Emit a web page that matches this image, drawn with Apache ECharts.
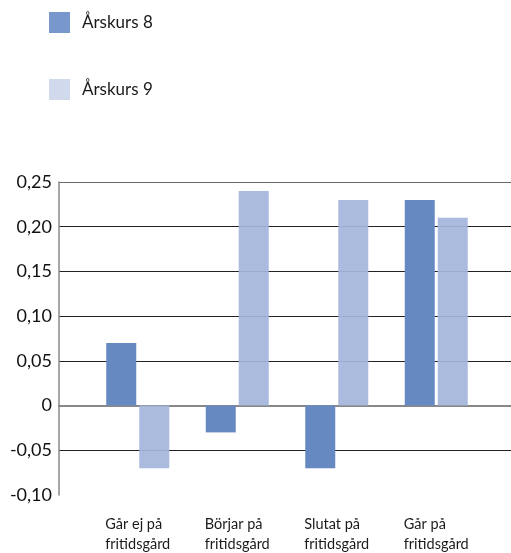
<!DOCTYPE html>
<html>
<head>
<meta charset="utf-8">
<script src="https://cdn.jsdelivr.net/npm/echarts@6/dist/echarts.min.js"></script>
<style>html,body{margin:0;padding:0;background:#fff}#c{width:511px;height:553px}</style>
</head>
<body>
<div id="c"></div>
<script>
var categories = ['Går ej på\nfritidsgård', 'Börjar på\nfritidsgård', 'Slutat på\nfritidsgård', 'Går på\nfritidsgård'];
var seriesNames = ['Årskurs 8', 'Årskurs 9'];
var arskurs8 = [0.07, -0.03, -0.07, 0.23];
var arskurs9 = [-0.07, 0.24, 0.23, 0.21];
var yTicks = { min: -0.10, max: 0.25, interval: 0.05 };

var chart = echarts.init(document.getElementById('c'), null, { renderer: 'canvas' });
var option = {
  animation: false,
  backgroundColor: '#fff',
  legend: {
    orient: 'vertical', left: 44, top: 7,
    itemWidth: 21, itemHeight: 21, itemGap: 46,
    icon: 'rect',
    textStyle: { fontFamily: 'Lato', fontSize: 17, color: '#1a1a1a', padding: [3, 0, 0, 7] },
    data: [
      { name: seriesNames[0], itemStyle: { color: '#7897CD' } },
      { name: seriesNames[1], itemStyle: { color: '#D0DAEC' } }
    ]
  },
  grid: [
    { left: 59, right: 0, top: 182, bottom: 58, outerBoundsMode: 'none', containLabel: false },
    { left: 88, right: 25, top: 182, bottom: 58, outerBoundsMode: 'none', containLabel: false }
  ],
  xAxis: [
    { type: 'category', gridIndex: 0, data: [''], axisLine: { show: true, lineStyle: { color: '#888', width: 2 } },
      axisTick: { show: false }, axisLabel: { show: false }, splitLine: { show: false } },
    { type: 'category', gridIndex: 1, data: categories,
      axisLine: { show: false }, axisTick: { show: false },
      axisLabel: {
        interval: 0, margin: 19, color: '#1a1a1a', fontFamily: 'Lato', fontSize: 14.5, lineHeight: 20,
        formatter: function (v) { return v.split('\n').map(function (s) { return '{a|' + s + '}'; }).join('\n'); },
        rich: { a: { fontFamily: 'Lato', fontSize: 14.5, lineHeight: 20, color: '#1a1a1a', align: 'left' } }
      } }
  ],
  yAxis: [
    { type: 'value', gridIndex: 0, min: yTicks.min, max: yTicks.max, interval: yTicks.interval,
      axisLine: { show: true, lineStyle: { color: '#888', width: 1.5 } },
      axisTick: { show: false },
      axisLabel: { margin: 7, color: '#111', fontFamily: 'Lato', fontSize: 18,
        formatter: function (v) { return Math.abs(v) < 1e-9 ? '0' : v.toFixed(2).replace('.', ','); } },
      splitLine: { show: true, lineStyle: { color: ['transparent', '#222', '#222', '#222', '#222', '#222', '#222', '#666'], width: 1 } } },
    { type: 'value', gridIndex: 1, min: yTicks.min, max: yTicks.max, interval: yTicks.interval, show: false }
  ],
  series: [
    { name: seriesNames[0], type: 'bar', xAxisIndex: 1, yAxisIndex: 1, data: arskurs8,
      barWidth: 30, barGap: '10%', itemStyle: { color: '#6789C2' } },
    { name: seriesNames[1], type: 'bar', xAxisIndex: 1, yAxisIndex: 1, data: arskurs9,
      barWidth: 30, barGap: '10%', itemStyle: { color: 'rgba(164,182,218,0.93)' } }
  ]
};
chart.setOption(option);
</script>
</body>
</html>
